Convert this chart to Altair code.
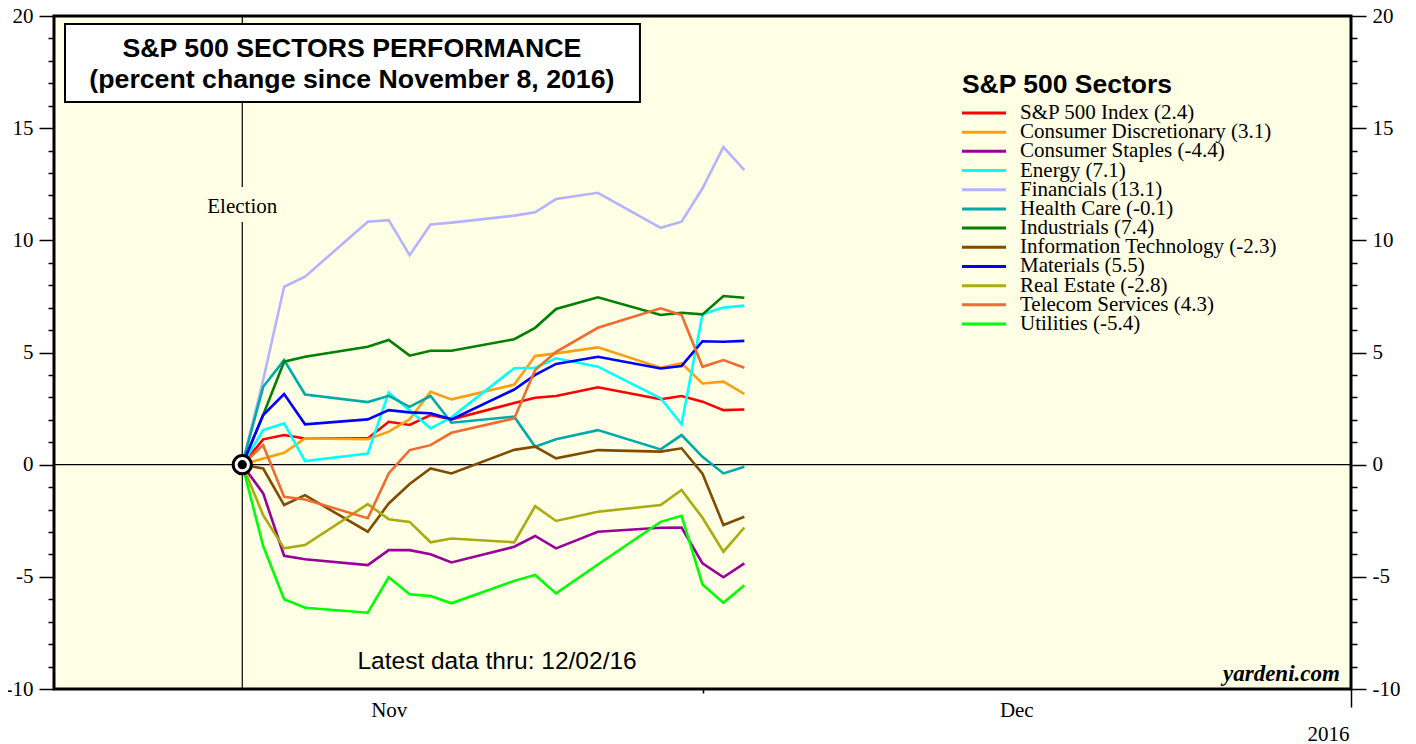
import altair as alt
import pandas as pd

# ---------------- data ----------------
dates = ["2016-11-08", "2016-11-09", "2016-11-10", "2016-11-11", "2016-11-14",
         "2016-11-15", "2016-11-16", "2016-11-17", "2016-11-18", "2016-11-21",
         "2016-11-22", "2016-11-23", "2016-11-25", "2016-11-28", "2016-11-29",
         "2016-11-30", "2016-12-01", "2016-12-02"]

sp500 = [0, 1.13, 1.32, 1.17, 1.17, 1.91, 1.77, 2.21, 2.02, 2.75, 2.98, 3.06, 3.45, 2.92, 3.06, 2.81, 2.43, 2.46]
cons_disc = [0, 0.28, 0.53, 1.17, 1.13, 1.47, 2.02, 3.25, 2.91, 3.57, 4.84, 4.96, 5.23, 4.32, 4.52, 3.62, 3.70, 3.15]
cons_stap = [0, -1.28, -4.06, -4.22, -4.48, -3.81, -3.81, -3.99, -4.36, -3.66, -3.18, -3.73, -2.99, -2.81, -2.80, -4.40, -5.02, -4.40]
energy = [0, 1.54, 1.84, 0.16, 0.50, 3.21, 2.43, 1.62, 2.11, 4.30, 4.32, 4.74, 4.37, 2.96, 1.80, 6.70, 7.00, 7.09]
financials = [0, 3.78, 7.93, 8.38, 10.83, 10.90, 9.34, 10.71, 10.79, 11.10, 11.25, 11.84, 12.12, 10.56, 10.83, 12.32, 14.16, 13.13]
health_care = [0, 3.47, 4.66, 3.13, 2.79, 3.07, 2.58, 3.06, 1.87, 2.14, 0.80, 1.13, 1.54, 0.68, 1.32, 0.35, -0.39, -0.09]
industrials = [0, 2.22, 4.59, 4.81, 5.26, 5.56, 4.86, 5.08, 5.08, 5.59, 6.10, 6.94, 7.46, 6.67, 6.77, 6.70, 7.52, 7.44]
info_tech = [0, -0.17, -1.80, -1.36, -2.99, -1.73, -0.86, -0.17, -0.39, 0.66, 0.80, 0.28, 0.65, 0.58, 0.73, -0.40, -2.69, -2.32]
materials = [0, 2.21, 3.15, 1.80, 2.02, 2.43, 2.33, 2.29, 2.02, 3.35, 4.00, 4.49, 4.81, 4.29, 4.40, 5.50, 5.48, 5.52]
real_estate = [0, -2.25, -3.73, -3.58, -1.76, -2.43, -2.55, -3.46, -3.29, -3.46, -1.85, -2.51, -2.10, -1.80, -1.13, -2.37, -3.88, -2.80]
telecom = [0, 0.87, -1.43, -1.55, -2.39, -0.39, 0.65, 0.87, 1.42, 2.06, 4.22, 5.03, 6.10, 6.97, 6.67, 4.36, 4.66, 4.32]
utilities = [0, -3.63, -6.00, -6.38, -6.60, -5.02, -5.78, -5.86, -6.18, -5.18, -4.92, -5.74, -4.45, -2.55, -2.28, -5.34, -6.16, -5.37]

labels = ["S&P 500 Index (2.4)", "Consumer Discretionary (3.1)", "Consumer Staples (-4.4)",
          "Energy (7.1)", "Financials (13.1)", "Health Care (-0.1)", "Industrials (7.4)",
          "Information Technology (-2.3)", "Materials (5.5)", "Real Estate (-2.8)",
          "Telecom Services (4.3)", "Utilities (-5.4)"]
series = [sp500, cons_disc, cons_stap, energy, financials, health_care, industrials,
          info_tech, materials, real_estate, telecom, utilities]
colors = ["#FF0000", "#FF9E10", "#990099", "#00FFFF", "#B3B3FF", "#00AAAA", "#008000",
          "#804D00", "#0000FF", "#AAAA11", "#F26B2E", "#00FF00"]

SERIF = "Liberation Serif"
SANS = "Liberation Sans"

rows = []
for lab, vals in zip(labels, series):
    for d, v in zip(dates, vals):
        rows.append({"sector": lab, "date": d, "value": v})
df = pd.DataFrame(rows)
# x position: end of the trading day, counted in days from Nov 1 00:00
df["day"] = (pd.to_datetime(df["date"]) - pd.Timestamp("2016-11-01")).dt.days + 1

election_day = 8

xs = alt.Scale(domain=[-1, 61], nice=False, zero=False)
ys = alt.Scale(domain=[-10, 20], nice=False, zero=False)
color_scale = alt.Scale(domain=labels, range=colors)

# month axis: labels centred in each month, short tick at the month boundary
x_axis_months = alt.Axis(
    orient="bottom", values=[15, 30, 45],
    labelExpr="datum.value == 15 ? 'Nov' : (datum.value == 45 ? 'Dec' : '')",
    tickSize=4,
    tickOpacity={"condition": {"test": "datum.value == 30", "value": 1}, "value": 0},
    tickColor="black", tickWidth=1.5, domain=False, grid=False,
    labelFont=SERIF, labelFontSize=21, labelColor="black", labelPadding=17,
    labelFlush=False, labelOverlap=False, labelBaseline="middle", title=None,
)
# year axis: long tick at the year end, year label underneath
x_axis_year = alt.Axis(
    orient="bottom", values=[61], labels=False, tickSize=18,
    tickColor="black", tickWidth=1.5, domain=False, grid=False,
    title="2016", titleFont=SERIF, titleFontSize=21, titleFontWeight="normal",
    titleColor="black", titleX=1295, titleY=45, titleAlign="right", titleBaseline="middle",
)

def y_axis(orient):
    return alt.Axis(
        orient=orient, values=list(range(-10, 21)),
        labelExpr="datum.value % 5 == 0 ? '' + datum.value : ''",
        tickSize={"condition": {"test": "datum.value % 5 == 0", "value": 15}, "value": 6},
        tickColor="black", tickWidth=1.5, domain=False, grid=False,
        labelFont=SERIF, labelFontSize=21, labelColor="black", labelPadding=6,
        labelOverlap=False, labelFlush=False, title=None,
    )

# election marker line (with gap for label)
elec_df = pd.DataFrame({"day": [election_day, election_day], "y": [20, 10.82], "y2": [12.38, -10]})
elec_rule = alt.Chart(elec_df).mark_rule(color="black", strokeWidth=1.2).encode(
    x=alt.X("day:Q", scale=xs, axis=x_axis_year),
    y=alt.Y("y:Q", scale=ys, axis=None), y2="y2:Q")

zero_df = pd.DataFrame({"y": [0]})
zero_rule = alt.Chart(zero_df).mark_rule(color="black", strokeWidth=1.2).encode(
    y=alt.Y("y:Q", scale=ys, axis=y_axis("right")))

lines = alt.Chart(df).mark_line(strokeWidth=2.6).encode(
    x=alt.X("day:Q", scale=xs, axis=x_axis_months),
    y=alt.Y("value:Q", scale=ys, axis=y_axis("left")),
    color=alt.Color("sector:N", sort=labels, scale=color_scale, legend=None),
)

mk_df = pd.DataFrame({"day": [election_day], "value": [0]})
ring = alt.Chart(mk_df).mark_point(shape="circle", filled=True, fill="white", stroke="black",
                                   strokeWidth=3, size=330, opacity=1).encode(
    x=alt.X("day:Q", scale=xs, axis=None), y=alt.Y("value:Q", scale=ys, axis=None))
dot = alt.Chart(mk_df).mark_point(shape="circle", filled=True, fill="black", size=85,
                                  opacity=1).encode(
    x=alt.X("day:Q", scale=xs, axis=None), y=alt.Y("value:Q", scale=ys, axis=None))

box_df = pd.DataFrame({"x": [-0.474], "x2": [27.01], "y": [19.64], "y2": [16.17]})
title_box = alt.Chart(box_df).mark_rect(fill="white", stroke="black", strokeWidth=2).encode(
    x=alt.X("x:Q", scale=xs, axis=None), x2="x2:Q",
    y=alt.Y("y:Q", scale=ys, axis=None), y2="y2:Q")

def text_layer(df_, **kw):
    return alt.Chart(df_).mark_text(**kw).encode(
        x=alt.X("x:Q", scale=xs, axis=None), y=alt.Y("y:Q", scale=ys, axis=None), text="t:N")

title_txt = text_layer(pd.DataFrame({"x": [13.24, 13.24], "y": [18.53, 17.16],
                                     "t": ["S&P 500 SECTORS PERFORMANCE",
                                           "(percent change since November 8, 2016)"]}),
                       font=SANS, fontSize=26.7, fontWeight="bold", color="black",
                       align="center", baseline="middle")
legend_title = text_layer(pd.DataFrame({"x": [42.40], "y": [16.92], "t": ["S&P 500 Sectors"]}),
                          font=SANS, fontSize=26.5, fontWeight="bold", color="black",
                          align="left", baseline="middle")
election_txt = text_layer(pd.DataFrame({"x": [election_day], "y": [11.5], "t": ["Election"]}),
                          font=SERIF, fontSize=21, color="black", align="center", baseline="middle")
latest_txt = text_layer(pd.DataFrame({"x": [20.18], "y": [-8.8], "t": ["Latest data thru: 12/02/16"]}),
                        font=SANS, fontSize=24.5, color="black", align="center", baseline="middle")
src_txt = text_layer(pd.DataFrame({"x": [60.47], "y": [-9.34], "t": ["yardeni.com"]}),
                     font=SERIF, fontSize=23, fontWeight="bold", fontStyle="italic",
                     color="black", align="right", baseline="middle")

# legend entries (one row per sector, on a point scale of their own)
leg_df = pd.DataFrame({"sector": labels})
leg_y = alt.Y("sector:N", sort=labels, axis=None,
              scale=alt.Scale(type="point", range=[97, 308], padding=0))
legend_sym = alt.Chart(leg_df).mark_rule(strokeWidth=3).encode(
    x=alt.value(908), x2=alt.value(952), y=leg_y,
    color=alt.Color("sector:N", sort=labels, scale=color_scale, legend=None))
legend_lbl = alt.Chart(leg_df).mark_text(align="left", baseline="middle", font=SERIF,
                                         fontSize=21, color="black").encode(
    x=alt.value(966), y=leg_y, text="sector:N")

chart = alt.layer(
    elec_rule, zero_rule, lines, ring, dot, title_box, title_txt, legend_title,
    election_txt, latest_txt, src_txt, legend_sym, legend_lbl
).resolve_scale(y="independent").resolve_axis(x="independent", y="independent").properties(
    width=1297, height=673,
    autosize=alt.AutoSizeParams(type="none"),
    padding={"left": 46, "top": 8, "right": 57, "bottom": 52},
    background="white",
).configure_view(fill="#FFFFE5", stroke="black", strokeWidth=3)

chart.save("out.html", embed_options={"renderer": "svg", "actions": False})
